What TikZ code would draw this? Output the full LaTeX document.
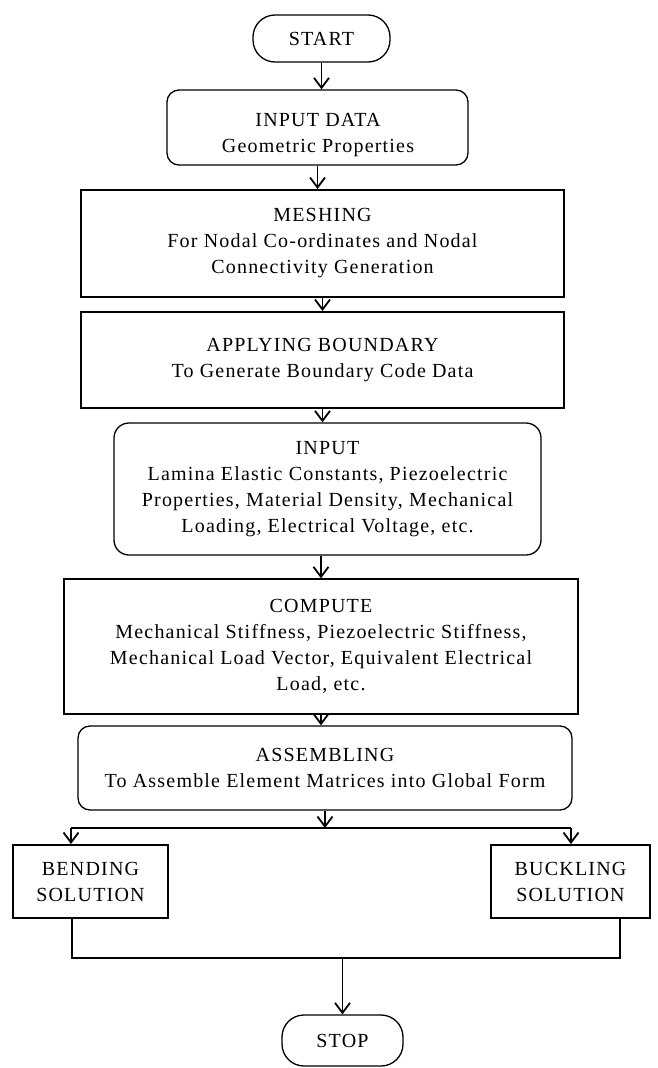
\documentclass[tikz,border=0pt]{standalone}
\usepackage{fontspec}
\setmainfont{Liberation Serif}[LetterSpace=6]
\usetikzlibrary{arrows.meta}
\begin{document}
\begin{tikzpicture}[x=1pt,y=-1pt,
  every node/.style={font=\fontsize{20}{26}\selectfont, align=center, inner sep=0pt},
  rbox/.style={draw, line width=1.3pt, rectangle, rounded corners=12pt},
  sbox/.style={draw, line width=2pt, rectangle},
  term/.style={draw, line width=1.3pt, rectangle, rounded corners=22pt},
  conn/.style={line width=1.8pt},
  arr/.style={conn, -{Straight Barb[length=10pt,width=15pt,line width=1.8pt]}}
]
\fill[white] (0,0) rectangle (657,1068);
\useasboundingbox (0,0) rectangle (657,1068);

\node[term, minimum width=137pt, minimum height=47pt] (start) at (321.5,38.5) {\raisebox{-2pt}{START}};
\node[rbox, minimum width=301pt, minimum height=75pt] (indata) at (317.5,127.5) {};
\node (indatatext) at (318,135) {INPUT DATA\\Geometric Properties};
\node[sbox, minimum width=483pt, minimum height=107pt] (mesh) at (322.5,243.5) {MESHING\\For Nodal Co-ordinates and Nodal\\Connectivity Generation};
\node[sbox, minimum width=483pt, minimum height=96pt] (bound) at (322.5,360) {APPLYING BOUNDARY\\To Generate Boundary Code Data};
\node[rbox, rounded corners=15pt, minimum width=427pt, minimum height=132pt] (input) at (327.5,489) {INPUT\\Lamina Elastic Constants, Piezoelectric\\Properties, Material Density, Mechanical\\Loading, Electrical Voltage, etc.};
\node[sbox, line width=1.3pt, minimum width=514pt, minimum height=135pt] (comp) at (321,646.5) {COMPUTE\\Mechanical Stiffness, Piezoelectric Stiffness,\\Mechanical Load Vector, Equivalent Electrical\\Load, etc.};
\node[rbox, minimum width=494pt, minimum height=84pt] (assem) at (325,768) {ASSEMBLING\\To Assemble Element Matrices into Global Form};
\node[sbox, minimum width=155pt, minimum height=73pt] (bend) at (90.5,881.5) {BENDING\\SOLUTION};
\node[sbox, minimum width=159pt, minimum height=73pt] (buck) at (570.5,881.5) {BUCKLING\\SOLUTION};
\node[term, minimum width=121pt, minimum height=51pt] (stop) at (342.5,1040.5) {\raisebox{-6pt}{STOP}};

\draw[arr] (start.south) -- (start.south |- indata.north);
\draw[arr] (indata.south) -- (indata.south |- mesh.north);
\draw[arr] (mesh.south) -- (mesh.south |- bound.north);
\draw[arr] (bound.south) -- (bound.south |- input.north);
\draw[arr] (comp.north |- input.south) -- (comp.north);
\draw[arr] (comp.south) -- (comp.south |- assem.north);

\coordinate (bl) at (71,828);
\coordinate (br) at (571,828);
\coordinate (bm) at (322,828);
\draw[arr] (assem.south) -- (assem.south |- bm);
\draw[conn] (bl) -- (br);
\draw[arr] (bl) -- (bl |- bend.north);
\draw[arr] (br) -- (br |- buck.north);

\coordinate (ml) at (72,958);
\coordinate (mr) at (620,958);
\draw[conn] (ml |- bend.south) -- (ml) -- (mr) -- (mr |- buck.south);
\draw[arr] (stop.north |- ml) -- (stop.north);
\end{tikzpicture}
\end{document}
